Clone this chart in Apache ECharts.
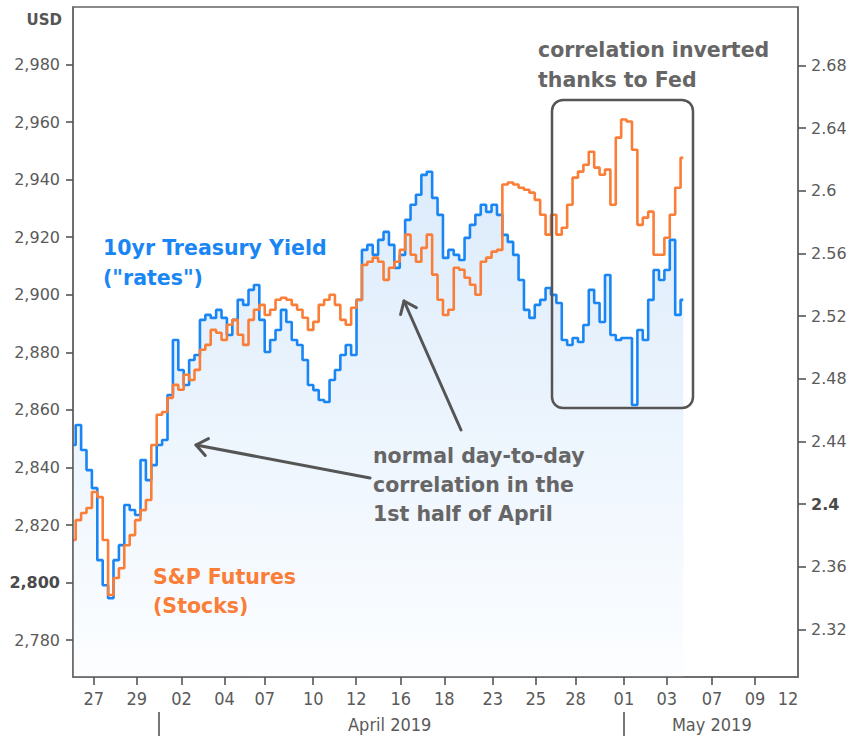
<!DOCTYPE html>
<html><head><meta charset="utf-8">
<script src="https://cdn.jsdelivr.net/npm/echarts@6/dist/echarts.min.js"></script>
<style>html,body{margin:0;padding:0;background:#fff}#c{width:853px;height:736px}</style>
</head><body><div id="c"></div>
<script>
// sampling step along the (weekend-collapsed) trading-day axis
const SAMPLE_STEP = 0.25;

// S&P 500 futures, USD (left axis)
const SP_FUTURES = [
2814.8,2821.7,2824.2,2825.9,2831.5,2829.7,2814.8,2795.7,2801.6,2805.0,
2813.0,2816.5,2821.7,2825.2,2828.7,2847.8,2858.3,2859.3,2864.2,2868.7,
2867.0,2872.2,2870.4,2873.9,2880.9,2882.6,2887.8,2886.8,2884.3,2889.6,
2891.3,2886.1,2882.6,2891.3,2894.8,2896.5,2893.0,2894.8,2898.3,2899.0,
2898.3,2896.5,2894.8,2892.0,2887.8,2890.6,2896.5,2898.3,2900.0,2896.5,
2891.3,2889.6,2895.5,2898.3,2910.4,2911.5,2912.9,2911.5,2905.2,2909.4,
2911.5,2915.6,2920.9,2913.9,2911.5,2916.3,2920.9,2907.0,2898.3,2893.0,
2894.8,2909.4,2908.7,2905.9,2903.5,2900.0,2911.5,2912.9,2915.0,2915.6,
2938.3,2939.0,2938.3,2937.2,2936.5,2935.5,2933.0,2927.8,2920.9,2927.8,
2920.9,2923.3,2931.3,2940.7,2942.8,2945.2,2949.7,2944.2,2941.7,2943.5,
2931.3,2954.6,2960.9,2960.2,2950.4,2924.3,2926.8,2928.9,2913.9,2913.9,
2919.8,2927.8,2937.2,2947.6];

// 10yr Treasury yield, % (right axis)
const TREASURY_10Y = [
2.4377,2.4505,2.4345,2.4217,2.4102,2.3642,2.3482,2.3399,2.3642,2.3738,
2.3994,2.3962,2.3930,2.4281,2.4153,2.4249,2.4377,2.4409,2.4697,2.5048,
2.4856,2.4760,2.4920,2.4952,2.5176,2.5208,2.5189,2.5240,2.5189,2.5080,
2.5176,2.5304,2.5272,2.5368,2.5399,2.5176,2.4971,2.5048,2.5112,2.5240,
2.5163,2.5048,2.5016,2.4920,2.4760,2.4728,2.4665,2.4652,2.4792,2.4856,
2.4952,2.5016,2.4952,2.5304,2.5623,2.5655,2.5591,2.5687,2.5738,2.5655,
2.5508,2.5591,2.5815,2.5911,2.5975,2.6102,2.6122,2.5955,2.5847,2.5572,
2.5623,2.5591,2.5559,2.5700,2.5783,2.5847,2.5911,2.5866,2.5911,2.5847,
2.5719,2.5674,2.5591,2.5431,2.5240,2.5189,2.5272,2.5304,2.5380,2.5336,
2.5284,2.5048,2.5016,2.5061,2.5035,2.5144,2.5368,2.5284,2.5163,2.5463,
2.5080,2.5048,2.5061,2.5061,2.4633,2.5112,2.5048,2.5304,2.5495,2.5431,
2.5495,2.5687,2.5208,2.5304];

// x axis (trading-day units) : day ticks and labels
const DAY_TICK_POS    = [0.96,2.95,5.02,7.01,8.88,11.12,13.11,15.17,17.19,19.43,21.42,23.26,25.50,27.49,29.58,31.57];
const DAY_TICK_LABELS = ['27','29','02','04','07','10','12','16','18','23','25','28','01','03','07','09'];
const EXTRA_DAY_LABEL_POS = 33.1, EXTRA_DAY_LABEL = '12';
const MONTH_SEP_POS = [3.99, 25.50];
const MONTH_LABEL_POS = [14.66, 29.57];
const MONTH_LABELS = ['April 2019', 'May 2019'];
const X_MIN = 0, X_MAX = 33.56;

// y axes
const USD_TICKS = [2780,2800,2820,2840,2860,2880,2900,2920,2940,2960,2980];
const USD_MIN = 2767.2, USD_MAX = 3000;
const YIELD_TICKS = [2.32,2.36,2.40,2.44,2.48,2.52,2.56,2.60,2.64,2.68];
const YIELD_MIN = 2.2896, YIELD_MAX = 2.7174;

const BLUE = '#1a86f4', ORANGE = '#fa7e38', GRAY = '#5a5a5a', DARK = '#555';
const AX_FONT = 'DejaVu Sans';
const NARROW = "'Liberation Sans Narrow','DejaVu Sans Condensed','Roboto Condensed',sans-serif";
const ANN_FONT = "bold 20.5px 'DejaVu Sans', sans-serif";

const chart = echarts.init(document.getElementById('c'), null, {renderer: 'svg'});

function arrow(x1, y1, x2, y2) {
  const dx = x1 - x2, dy = y1 - y2, L = Math.hypot(dx, dy);
  const ux = dx / L, uy = dy / L, a = 38 * Math.PI / 180, w = 14;
  const r1 = [ux * Math.cos(a) - uy * Math.sin(a), ux * Math.sin(a) + uy * Math.cos(a)];
  const r2 = [ux * Math.cos(-a) - uy * Math.sin(-a), ux * Math.sin(-a) + uy * Math.cos(-a)];
  const st = {stroke: DARK, lineWidth: 3, fill: 'none', lineCap: 'round', lineJoin: 'round'};
  return [
    {type: 'line', shape: {x1, y1, x2, y2}, style: st, z: 100},
    {type: 'polyline', shape: {points: [[x2 + w * r1[0], y2 + w * r1[1]], [x2, y2], [x2 + w * r2[0], y2 + w * r2[1]]]}, style: st, z: 100}
  ];
}
function txt(s, x, y, color) {
  return {type: 'text', z: 100, style: {text: s, x, y, fill: color, font: ANN_FONT, textAlign: 'left', textVerticalAlign: 'middle'}};
}

const option = {
  animation: false,
  backgroundColor: '#fff',
  grid: {left: 73, top: 7, right: 55, bottom: 59, show: true, borderColor: '#666', borderWidth: 1.5, containLabel: false},
  xAxis: [
    {
      type: 'value', min: X_MIN, max: X_MAX, position: 'bottom', z: 10,
      splitLine: {show: false},
      axisLine: {show: true, onZero: false, lineStyle: {color: '#666', width: 1.5}},
      axisTick: {show: true, customValues: DAY_TICK_POS, length: 8, lineStyle: {color: '#555', width: 1.6}},
      axisLabel: {
        customValues: DAY_TICK_POS.concat([EXTRA_DAY_LABEL_POS]), margin: 12,
        color: GRAY, fontFamily: NARROW, fontSize: 18,
        formatter: v => {
          if (Math.abs(v - EXTRA_DAY_LABEL_POS) < 1e-6) return EXTRA_DAY_LABEL;
          const i = DAY_TICK_POS.findIndex(p => Math.abs(p - v) < 1e-6);
          return i >= 0 ? DAY_TICK_LABELS[i] : '';
        }
      }
    },
    {
      type: 'value', min: X_MIN, max: X_MAX, position: 'bottom', offset: 35,
      splitLine: {show: false},
      axisLine: {show: false, onZero: false},
      axisTick: {show: true, customValues: MONTH_SEP_POS, length: 26, lineStyle: {color: '#555', width: 1.6}},
      axisLabel: {
        customValues: MONTH_LABEL_POS, margin: 3,
        color: GRAY, fontFamily: NARROW, fontSize: 18,
        formatter: v => {
          const i = MONTH_LABEL_POS.findIndex(p => Math.abs(p - v) < 1e-6);
          return i >= 0 ? MONTH_LABELS[i] : '';
        }
      }
    }
  ],
  yAxis: [
    {
      type: 'value', min: USD_MIN, max: USD_MAX, position: 'left', z: 10,
      splitLine: {show: false},
      axisLine: {show: true, onZero: false, lineStyle: {color: '#666', width: 1.5}},
      axisTick: {show: true, customValues: USD_TICKS, length: 7, lineStyle: {color: '#555', width: 1.6}},
      axisLabel: {
        customValues: USD_TICKS, margin: 13, color: GRAY, fontFamily: AX_FONT, fontSize: 16,
        formatter: v => {
          const s = Math.round(v).toLocaleString('en-US');
          return Math.round(v) === 2800 ? '{b|' + s + '}' : s;
        },
        rich: {b: {fontWeight: 'bold', color: '#4a4a4a', fontFamily: AX_FONT, fontSize: 16}}
      }
    },
    {
      type: 'value', min: YIELD_MIN, max: YIELD_MAX, position: 'right', z: 10,
      splitLine: {show: false},
      axisLine: {show: true, onZero: false, lineStyle: {color: '#666', width: 1.5}},
      axisTick: {show: true, customValues: YIELD_TICKS, length: 8, lineStyle: {color: '#555', width: 1.6}},
      axisLabel: {
        customValues: YIELD_TICKS, margin: 13, color: GRAY, fontFamily: AX_FONT, fontSize: 16,
        formatter: v => {
          const s = String(+v.toFixed(2));
          return s === '2.4' ? '{b|' + s + '}' : s;
        },
        rich: {b: {fontWeight: 'bold', color: '#4a4a4a', fontFamily: AX_FONT, fontSize: 16}}
      }
    }
  ],
  series: [
    {
      name: '10yr Treasury Yield', type: 'line', xAxisIndex: 0, yAxisIndex: 1,
      data: TREASURY_10Y.map((v, i) => [i * SAMPLE_STEP, v]),
      showSymbol: false, step: 'middle', z: 2,
      lineStyle: {color: BLUE, width: 2.6},
      areaStyle: {origin: 'start', color: new echarts.graphic.LinearGradient(0, 0, 0, 1, [
        {offset: 0, color: '#cde3fa'}, {offset: 1, color: '#fbfdff'}])}
    },
    {
      name: 'S&P Futures', type: 'line', xAxisIndex: 0, yAxisIndex: 0,
      data: SP_FUTURES.map((v, i) => [i * SAMPLE_STEP, v]),
      showSymbol: false, step: 'middle', z: 3,
      lineStyle: {color: ORANGE, width: 2.6}
    }
  ],
  graphic: [
    {type: 'text', z: 100, style: {text: 'USD', x: 62, y: 20, fill: '#555', font: "bold 15px 'DejaVu Sans', sans-serif", textAlign: 'right', textVerticalAlign: 'middle'}},
    txt('correlation inverted', 538, 50, '#666'),
    txt('thanks to Fed', 538, 80, '#666'),
    txt('10yr Treasury Yield', 103, 248, BLUE),
    txt('("rates")', 103, 278, BLUE),
    txt('S&P Futures', 153, 577, ORANGE),
    txt('(Stocks)', 153, 606, ORANGE),
    txt('normal day-to-day', 373, 456, '#666'),
    txt('correlation in the', 373, 485, '#666'),
    txt('1st half of April', 373, 514, '#666'),
    {type: 'rect', z: 100, shape: {x: 552, y: 100, width: 141, height: 308, r: 11}, style: {fill: 'none', stroke: DARK, lineWidth: 2.5}}
  ].concat(arrow(370, 478, 196, 445), arrow(461, 430, 404, 301))
};
chart.setOption(option);
</script>
</body></html>
